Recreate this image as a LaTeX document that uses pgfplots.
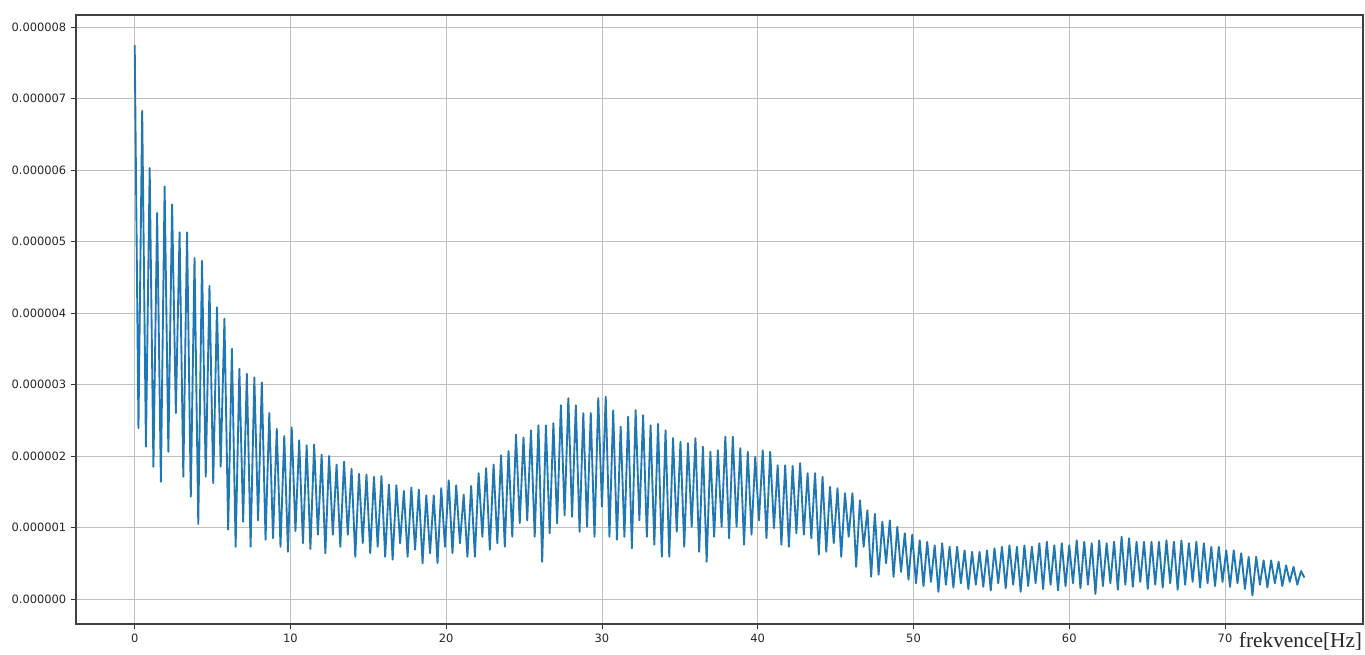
\documentclass[border=0pt]{standalone}
\usepackage{pgfplots}
\pgfplotsset{compat=1.18}
\usepackage{fontspec}
\setmainfont{DejaVu Sans}
\newfontfamily\tnr{Liberation Serif}
\definecolor{mplblue}{HTML}{1F77B4}
\begin{document}
\begin{tikzpicture}
\useasboundingbox (-57pt,-22.5pt) rectangle (966.75pt,468pt);
\begin{axis}[
  at={(0,0)}, anchor=south west,
  scale only axis, width=965.25pt, height=456.75pt,
  xmin=-3.77, xmax=78.86, ymin=-0.35, ymax=8.17,
  xtick={0,10,20,30,40,50,60,70},
  xticklabels={0,10,20,30,40,50,60,70},
  ytick={0,1,2,3,4,5,6,7,8},
  yticklabels={0.000000,0.000001,0.000002,0.000003,0.000004,0.000005,0.000006,0.000007,0.000008},
  ticklabel style={font=\fontsize{8.6}{10}\selectfont, text=black!85},
  xtick pos=bottom, ytick pos=left,
  grid=major,
  grid style={color=gray!50, line width=0.6pt},
  axis line style={black!75, line width=0.8pt},
  tick align=outside,
  major tick length=3.75pt,
  tick style={black!80, line width=0.6pt},
  xlabel={\tnr frekvence[Hz]},
  xlabel style={at={(rel axis cs:1,0)}, anchor=north east, inner sep=0pt, yshift=-6pt, xshift=-0.5pt, font=\fontsize{16}{18}\selectfont, text=black!85},
]
\addplot[mplblue, line width=1.4pt, line join=round] coordinates {
(0,7.75)(0.24,2.39)
(0.48,6.83)(0.72,2.13)
(0.96,6.03)(1.20,1.85)
(1.44,5.40)(1.68,1.64)
(1.92,5.77)(2.16,2.06)
(2.40,5.52)(2.64,2.60)
(2.88,5.13)(3.12,1.71)
(3.36,5.13)(3.60,1.43)
(3.84,4.77)(4.08,1.05)
(4.32,4.73)(4.56,1.71)
(4.80,4.38)(5.04,1.62)
(5.28,4.08)(5.52,1.85)
(5.76,3.92)(6.00,0.97)
(6.24,3.50)(6.48,0.73)
(6.72,3.22)(6.96,1.08)
(7.20,3.15)(7.44,0.73)
(7.68,3.10)(7.92,1.10)
(8.16,3.03)(8.40,0.83)
(8.64,2.60)(8.88,0.85)
(9.12,2.38)(9.36,0.73)
(9.60,2.28)(9.84,0.66)
(10.08,2.40)(10.32,0.95)
(10.56,2.22)(10.80,0.78)
(11.04,2.15)(11.28,0.70)
(11.52,2.16)(11.76,0.90)
(12.00,2.02)(12.24,0.64)
(12.48,2.00)(12.72,0.90)
(12.96,1.88)(13.20,0.73)
(13.44,1.92)(13.68,0.90)
(13.92,1.82)(14.16,0.59)
(14.40,1.75)(14.64,0.78)
(14.88,1.74)(15.12,0.64)
(15.36,1.71)(15.60,0.73)
(15.84,1.72)(16.08,0.59)
(16.32,1.60)(16.56,0.55)
(16.80,1.59)(17.04,0.78)
(17.28,1.51)(17.52,0.59)
(17.76,1.56)(18.00,0.69)
(18.24,1.53)(18.48,0.50)
(18.72,1.45)(18.96,0.64)
(19.20,1.45)(19.44,0.50)
(19.68,1.55)(19.92,0.73)
(20.16,1.66)(20.40,0.64)
(20.64,1.59)(20.88,0.78)
(21.12,1.46)(21.36,0.59)
(21.60,1.58)(21.84,0.59)
(22.08,1.76)(22.32,0.87)
(22.56,1.83)(22.80,0.69)
(23.04,1.88)(23.28,0.78)
(23.52,2.01)(23.76,0.73)
(24.00,2.07)(24.24,0.87)
(24.48,2.30)(24.72,1.06)
(24.96,2.26)(25.20,1.10)
(25.44,2.36)(25.68,0.87)
(25.92,2.43)(26.16,0.52)
(26.40,2.43)(26.64,0.92)
(26.88,2.46)(27.12,1.06)
(27.36,2.71)(27.60,1.17)
(27.84,2.81)(28.08,1.15)
(28.32,2.71)(28.56,0.94)
(28.80,2.60)(29.04,1.01)
(29.28,2.60)(29.52,0.87)
(29.76,2.81)(30.00,1.29)
(30.24,2.83)(30.48,0.87)
(30.72,2.64)(30.96,0.83)
(31.20,2.41)(31.44,0.87)
(31.68,2.55)(31.92,0.71)
(32.16,2.64)(32.40,1.10)
(32.64,2.57)(32.88,0.87)
(33.12,2.43)(33.36,0.76)
(33.60,2.45)(33.84,0.59)
(34.08,2.36)(34.32,0.59)
(34.56,2.25)(34.80,0.94)
(35.04,2.20)(35.28,0.73)
(35.52,2.18)(35.76,1.01)
(36.00,2.25)(36.24,0.66)
(36.48,2.13)(36.72,0.52)
(36.96,2.06)(37.20,0.87)
(37.44,2.08)(37.68,1.01)
(37.92,2.27)(38.16,0.85)
(38.40,2.27)(38.64,1.01)
(38.88,2.11)(39.12,0.76)
(39.36,2.06)(39.60,0.90)
(39.84,1.99)(40.08,1.10)
(40.32,2.08)(40.56,0.85)
(40.80,2.06)(41.04,0.99)
(41.28,1.87)(41.52,0.76)
(41.76,1.87)(42.00,0.73)
(42.24,1.86)(42.48,0.92)
(42.72,1.90)(42.96,0.90)
(43.20,1.76)(43.44,0.85)
(43.68,1.76)(43.92,0.62)
(44.16,1.71)(44.40,0.66)
(44.64,1.57)(44.88,0.78)
(45.12,1.55)(45.36,0.59)
(45.60,1.48)(45.84,0.87)
(46.08,1.48)(46.32,0.45)
(46.56,1.38)(46.80,0.73)
(47.04,1.24)(47.28,0.31)
(47.52,1.19)(47.76,0.34)
(48.00,1.08)(48.24,0.50)
(48.48,1.10)(48.72,0.31)
(48.96,1.01)(49.20,0.38)
(49.44,0.92)(49.68,0.27)
(49.92,0.90)(50.16,0.22)
(50.40,0.82)(50.64,0.18)
(50.88,0.80)(51.12,0.24)
(51.36,0.75)(51.60,0.10)
(51.84,0.78)(52.08,0.20)
(52.32,0.73)(52.56,0.16)
(52.80,0.73)(53.04,0.22)
(53.28,0.68)(53.52,0.14)
(53.76,0.66)(54.00,0.20)
(54.24,0.66)(54.48,0.17)
(54.72,0.68)(54.96,0.12)
(55.20,0.71)(55.44,0.22)
(55.68,0.73)(55.92,0.15)
(56.16,0.75)(56.40,0.20)
(56.64,0.73)(56.88,0.10)
(57.12,0.75)(57.36,0.18)
(57.60,0.73)(57.84,0.22)
(58.08,0.78)(58.32,0.14)
(58.56,0.80)(58.80,0.20)
(59.04,0.75)(59.28,0.12)
(59.52,0.78)(59.76,0.18)
(60.00,0.75)(60.24,0.22)
(60.48,0.82)(60.72,0.15)
(60.96,0.80)(61.20,0.20)
(61.44,0.78)(61.68,0.07)
(61.92,0.82)(62.16,0.18)
(62.40,0.78)(62.64,0.22)
(62.88,0.80)(63.12,0.13)
(63.36,0.87)(63.60,0.20)
(63.84,0.85)(64.08,0.17)
(64.32,0.80)(64.56,0.24)
(64.80,0.80)(65.04,0.14)
(65.28,0.80)(65.52,0.20)
(65.76,0.80)(66.00,0.16)
(66.24,0.82)(66.48,0.22)
(66.72,0.80)(66.96,0.13)
(67.20,0.82)(67.44,0.20)
(67.68,0.78)(67.92,0.24)
(68.16,0.80)(68.40,0.16)
(68.64,0.78)(68.88,0.22)
(69.12,0.73)(69.36,0.18)
(69.60,0.73)(69.84,0.24)
(70.08,0.68)(70.32,0.17)
(70.56,0.68)(70.80,0.22)
(71.04,0.64)(71.28,0.14)
(71.52,0.59)(71.76,0.05)
(72.00,0.59)(72.24,0.20)
(72.48,0.54)(72.72,0.16)
(72.96,0.54)(73.20,0.22)
(73.44,0.52)(73.68,0.18)
(73.92,0.47)(74.16,0.24)
(74.40,0.45)(74.64,0.20)
(74.88,0.39)(75.10,0.30)
};
\end{axis}
\end{tikzpicture}
\end{document}
